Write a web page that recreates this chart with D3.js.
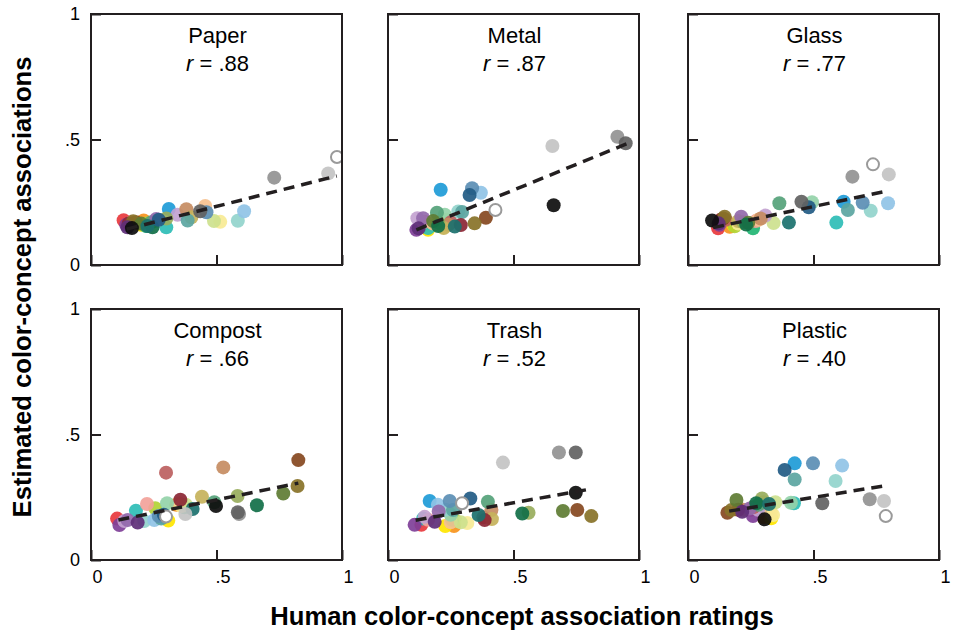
<!DOCTYPE html>
<html>
<head>
<meta charset="utf-8">
<script src="https://cdn.jsdelivr.net/npm/d3@7/dist/d3.min.js"></script>
<style>
	body { margin: 0; background: #fff; }
	svg { font-family: "Liberation Sans", Arial, Helvetica, sans-serif; }
</style>
</head>
<body>
<svg id="chart"></svg>
<script>
var concepts = ["Paper", "Metal", "Glass", "Compost", "Trash", "Plastic"];
var correlations = [".88", ".87", ".77", ".66", ".52", ".40"];

// BCP-37 colours: saturated, light, muted, dark, then achromatic
var colorNames = ["SR","SO","SY","SH","SG","SC","SB","SP",
	"LR","LO","LY","LH","LG","LC","LB","LP",
	"MR","MO","MY","MH","MG","MC","MB","MP",
	"DR","DO","DY","DH","DG","DC","DB","DP",
	"White","A1","A2","A3","Black"];
var colorHex = ["#e8383d","#f7941d","#ffe600","#b2d235","#21b573","#2ebdb6","#1e9bd7","#7f3f98",
	"#f2a29a","#f6c18f","#f7ea95","#cde18e","#94d3a9","#92d4cc","#90c3e6","#c3a2d0",
	"#bc6060","#c68c62","#c6b25b","#98ad5c","#55a27a","#5ba5a1","#5b8eb4","#9369ab",
	"#8b2634","#86481f","#887228","#5e7c33","#116f48","#1b716e","#225b84","#5e2f78",
	"#ffffff","#c3c3c3","#939393","#626262","#0d0d0d"];

var paperX = [0.13,0.21,0.20,0.22,0.22,0.30,0.31,0.14, 0.16,0.455,0.515,0.49,0.26,0.585,0.61,0.345,
	0.17,0.38,0.40,0.30,0.24,0.385,0.46,0.26, 0.15,0.18,0.168,0.20,0.245,0.225,0.27,0.145, 0.98,0.945,0.73,0.435,0.163];
var paperY = [0.178,0.177,0.16,0.165,0.155,0.15,0.223,0.16, 0.17,0.235,0.172,0.175,0.175,0.176,0.214,0.20,
	0.168,0.222,0.19,0.185,0.17,0.177,0.21,0.183, 0.165,0.17,0.174,0.165,0.15,0.155,0.18,0.15, 0.43,0.365,0.348,0.214,0.147];

var metalX = [0.15,0.17,0.16,0.20,0.22,0.16,0.21,0.113, 0.14,0.18,0.22,0.23,0.226,0.28,0.37,0.117,
	0.25,0.24,0.222,0.20,0.195,0.295,0.335,0.14, 0.29,0.39,0.345,0.18,0.20,0.266,0.325,0.122, 0.428,0.655,0.914,0.947,0.66];
var metalY = [0.17,0.16,0.14,0.16,0.17,0.147,0.30,0.14, 0.17,0.165,0.15,0.18,0.20,0.213,0.288,0.186,
	0.17,0.16,0.147,0.17,0.208,0.211,0.306,0.186, 0.159,0.188,0.166,0.175,0.155,0.153,0.279,0.146, 0.219,0.474,0.511,0.485,0.238];

var glassX = [0.12,0.166,0.18,0.186,0.259,0.591,0.62,0.125, 0.27,0.28,0.20,0.341,0.494,0.728,0.797,0.308,
	0.15,0.29,0.20,0.22,0.364,0.637,0.696,0.212, 0.13,0.14,0.146,0.24,0.232,0.402,0.481,0.122, 0.737,0.80,0.655,0.452,0.096];
var glassY = [0.146,0.152,0.16,0.154,0.146,0.169,0.252,0.16, 0.175,0.18,0.165,0.167,0.25,0.216,0.246,0.197,
	0.18,0.185,0.175,0.17,0.246,0.219,0.248,0.192, 0.18,0.185,0.192,0.168,0.161,0.169,0.23,0.166, 0.401,0.361,0.352,0.252,0.177];

var compostX = [0.104,0.34,0.308,0.256,0.372,0.179,0.28,0.113, 0.223,0.352,0.36,0.378,0.303,0.212,0.252,0.133,
	0.299,0.527,0.442,0.584,0.491,0.28,0.27,0.146, 0.356,0.826,0.823,0.766,0.661,0.405,0.29,0.186, 0.299,0.376,0.59,0.585,0.498];
var compostY = [0.165,0.22,0.157,0.206,0.21,0.196,0.17,0.139, 0.223,0.225,0.215,0.22,0.226,0.155,0.159,0.155,
	0.348,0.369,0.252,0.255,0.23,0.165,0.175,0.159, 0.24,0.398,0.295,0.265,0.218,0.203,0.18,0.149, 0.173,0.183,0.183,0.19,0.215];

var trashX = [0.133,0.263,0.228,0.27,0.255,0.14,0.166,0.106, 0.16,0.25,0.316,0.29,0.25,0.23,0.199,0.146,
	0.38,0.412,0.414,0.56,0.398,0.259,0.246,0.202, 0.385,0.754,0.81,0.697,0.535,0.361,0.328,0.186, 0.295,0.458,0.681,0.748,0.748];
var trashY = [0.14,0.135,0.135,0.155,0.16,0.165,0.235,0.14, 0.16,0.15,0.147,0.15,0.18,0.20,0.22,0.172,
	0.17,0.199,0.163,0.188,0.232,0.199,0.235,0.193, 0.159,0.199,0.175,0.195,0.185,0.179,0.245,0.152, 0.226,0.388,0.428,0.428,0.268];

var plasticX = [0.25,0.30,0.332,0.31,0.30,0.422,0.425,0.259, 0.27,0.33,0.339,0.348,0.41,0.588,0.614,0.279,
	0.26,0.22,0.30,0.295,0.28,0.425,0.498,0.246, 0.20,0.157,0.173,0.193,0.272,0.323,0.385,0.216, 0.788,0.781,0.724,0.535,0.305];
var plasticY = [0.20,0.17,0.166,0.22,0.21,0.226,0.385,0.175, 0.21,0.19,0.179,0.23,0.228,0.315,0.376,0.20,
	0.21,0.20,0.23,0.245,0.22,0.321,0.385,0.205, 0.20,0.188,0.199,0.239,0.226,0.223,0.359,0.192, 0.175,0.235,0.242,0.226,0.162];

// dashed fit lines
var fitSlope = [0.253, 0.409, 0.21, 0.205, 0.178, 0.163];
var fitIntercept = [0.107, 0.094, 0.128, 0.137, 0.139, 0.168];
var fitStart = [0.142, 0.113, 0.10, 0.109, 0.11, 0.164];
var fitEnd = [0.979, 0.95, 0.79, 0.826, 0.805, 0.779];

var tickValues = [0, 0.5, 1];
var tickLabels = ["0", ".5", "1"];

var xs = [paperX, metalX, glassX, compostX, trashX, plasticX];
var ys = [paperY, metalY, glassY, compostY, trashY, plasticY];

var width = 959, height = 633;
var panelSize = 251;
var panelLeft = [91, 388, 688];
var panelTop = [14, 309];

var svg = d3.select("#chart").attr("width", width).attr("height", height);

var x = d3.scaleLinear().domain([0, 1]).range([0, panelSize]);
var y = d3.scaleLinear().domain([0, 1]).range([panelSize, 0]);

var frameColor = "#231f20";

concepts.forEach(function(name, i){
	var col = i % 3, row = Math.floor(i / 3);
	var g = svg.append("g")
		.attr("transform", "translate(" + panelLeft[col] + "," + panelTop[row] + ")");

	var clipId = "clip" + i;
	g.append("clipPath").attr("id", clipId)
		.append("rect").attr("width", panelSize).attr("height", panelSize);

	var pts = colorNames.map(function(c, k){
		return {name: c, color: colorHex[k], x: xs[i][k], y: ys[i][k]};
	});

	var dots = g.append("g").attr("clip-path", "url(#" + clipId + ")");
	dots.selectAll("circle")
		.data(pts)
		.enter().append("circle")
			.attr("cx", function(d){ return x(d.x); })
			.attr("cy", function(d){ return y(d.y); })
			.attr("r", function(d){ return d.name == "White" ? 6 : 7; })
			.style("fill", function(d){ return d.color; })
			.style("fill-opacity", function(d){ return d.name == "White" ? 1 : 0.92; })
			.style("stroke", function(d){ return d.name == "White" ? "#9a9a9a" : "none"; })
			.style("stroke-width", 2);

	var line = d3.line()
		.x(function(d){ return x(d); })
		.y(function(d){ return y(fitIntercept[i] + fitSlope[i] * d); });

	g.append("path")
		.datum([fitStart[i], fitEnd[i]])
		.attr("d", line)
		.style("fill", "none")
		.style("stroke", "#231f20")
		.style("stroke-width", 3.5)
		.style("stroke-dasharray", "11,7");

	// inward ticks
	var yAxis = g.append("g")
		.call(d3.axisLeft(y).tickValues(tickValues).tickSize(-10).tickPadding(11)
			.tickFormat(function(d, k){ return col == 0 ? tickLabels[k] : ""; }));
	var xAxis = g.append("g")
		.attr("transform", "translate(0," + panelSize + ")")
		.call(d3.axisBottom(x).tickValues(tickValues).tickSize(-10).tickPadding(10)
			.tickFormat(function(d, k){ return row == 1 ? tickLabels[k] : ""; }));

	[yAxis, xAxis].forEach(function(ax){
		ax.select(".domain").remove();
		ax.selectAll("line").attr("stroke", frameColor).attr("stroke-width", 2);
		ax.selectAll("text")
			.attr("fill", "#000")
			.style("font-size", "18px")
			.style("font-family", "inherit");
	});
	xAxis.selectAll("text").attr("dx", 6);

	g.append("rect")
		.attr("width", panelSize)
		.attr("height", panelSize)
		.style("fill", "none")
		.style("stroke", frameColor)
		.style("stroke-width", 2);

	var title = g.append("text")
		.attr("text-anchor", "middle")
		.style("font-size", "22px")
		.attr("x", panelSize / 2 + 1);
	title.append("tspan").attr("x", panelSize / 2 + 1).attr("y", 29).text(name);
	var rLine = title.append("tspan").attr("x", panelSize / 2 + 1).attr("y", 57);
	rLine.append("tspan").style("font-style", "italic").text("r");
	rLine.append("tspan").text(" = " + correlations[i]);
});

svg.append("text")
	.attr("text-anchor", "middle")
	.attr("x", 522)
	.attr("y", 625)
	.style("font-size", "25.6px")
	.style("font-weight", "bold")
	.text("Human color-concept association ratings");

svg.append("text")
	.attr("text-anchor", "middle")
	.attr("transform", "translate(31,287) rotate(-90)")
	.style("font-size", "25.6px")
	.style("font-weight", "bold")
	.text("Estimated color-concept associations");
</script>
</body>
</html>
